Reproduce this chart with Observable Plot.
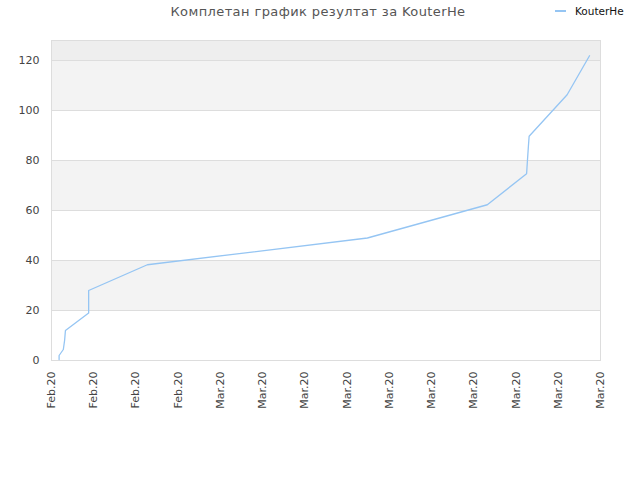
<!DOCTYPE html>
<html>
<head>
<meta charset="utf-8">
<script src="https://cdn.jsdelivr.net/npm/d3@7"></script>
<script src="https://cdn.jsdelivr.net/npm/@observablehq/plot@0.6"></script>
<style>
  body { margin: 0; background: #fff; }
  #wrap { position: relative; width: 640px; height: 480px; font-family: "DejaVu Sans", sans-serif; }
  #title { position: absolute; top: 4px; left: 0; width: 636px; text-align: center; font-size: 13px; color: #555; letter-spacing: 0.4px; }
  #legend { position: absolute; top: 5px; left: 555px; font-size: 10.5px; color: #111; display: flex; align-items: center; }
  #legend span.sw { display: inline-block; width: 11px; height: 2px; background: #95c5f3; margin-right: 9px; }
  #chart { position: absolute; top: 0; left: 0; }
</style>
</head>
<body>
<div id="wrap">
  <div id="chart"></div>
  <div id="title">Комплетан график резултат за KouterHe</div>
  <div id="legend"><span class="sw"></span>KouterHe</div>
</div>
<script>
const seriesName = "KouterHe";
const tickLabels = ["Feb.20","Feb.20","Feb.20","Feb.20","Mar.20","Mar.20","Mar.20","Mar.20","Mar.20","Mar.20","Mar.20","Mar.20","Mar.20","Mar.20"];
const xPos = [0.18, 0.18, 0.28, 0.31, 0.33, 0.88, 0.88, 2.27, 7.48, 10.32, 11.25, 11.27, 11.29, 11.31, 12.21, 12.74];
const scores = [0.4, 2, 4.4, 8, 12, 19, 28, 38.3, 49, 62.3, 74.7, 80, 85, 89.7, 106.3, 121.9];
const yTicks = [0, 20, 40, 60, 80, 100, 120];
const bandLow = [20, 60, 100, 120];
const bandHigh = [40, 80, 120, 128];
const bandFill = ["#f3f3f3", "#f3f3f3", "#f3f3f3", "#eeeeee"];

const data = xPos.map((x, i) => ({x, y: scores[i]}));
const bands = bandLow.map((lo, i) => ({lo, hi: bandHigh[i], fill: bandFill[i]}));

const chart = Plot.plot({
  width: 640,
  height: 480,
  marginLeft: 51,
  marginRight: 40,
  marginTop: 40,
  marginBottom: 120,
  style: { fontFamily: "DejaVu Sans, sans-serif", fontSize: "11px", color: "#444", background: "transparent" },
  x: { domain: [0, 13], label: null },
  y: { domain: [0, 128], label: null },
  marks: [
    Plot.rect(bands, { y1: "lo", y2: "hi", fill: "fill" }),
    Plot.ruleY(yTicks.filter(d => d > 0), { stroke: "#dddddd", strokeWidth: 1 }),
    Plot.frame({ stroke: "#dddddd" }),
    Plot.line(data, { x: "x", y: "y", stroke: "#95c5f3", strokeWidth: 1.3 }),
    Plot.axisX({ ticks: d3.range(14), tickFormat: i => tickLabels[i], tickRotate: -90, tickSize: 0, tickPadding: 11, label: null, fill: "#444" }),
    Plot.axisY({ ticks: yTicks, tickSize: 0, tickPadding: 12, label: null, fill: "#444" })
  ]
});
document.getElementById("chart").appendChild(chart);
</script>
</body>
</html>
